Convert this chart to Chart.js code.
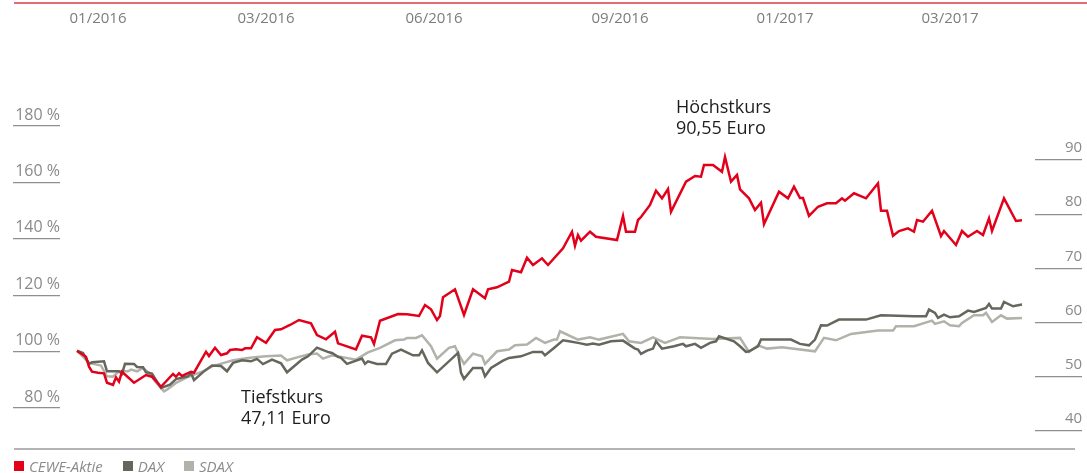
<!DOCTYPE html>
<html>
<head>
<meta charset="utf-8">
<script src="https://cdn.jsdelivr.net/npm/chart.js@4/dist/chart.umd.min.js"></script>
<style>
  body { margin: 0; background: #fff; }
  #wrap { position: relative; width: 1087px; height: 473px; font-family: 'Open Sans', sans-serif; }
  #topline { position: absolute; left: 14px; top: 2px; width: 1073px; height: 2px; background: #e46a74; }
  #baseline { position: absolute; left: 14px; top: 448px; width: 1061px; height: 2px; background: #b4b4b4; }
  #legend { position: absolute; left: 14px; top: 456px; display: flex; align-items: center;
            font-style: italic; font-size: 15px; color: #8c8c8c; }
  #legend .item { display: flex; align-items: center; margin-right: 20px; }
  #legend .box { width: 10px; height: 10px; margin-right: 5px; }
</style>
</head>
<body>
<div id="wrap">
  <div id="topline"></div>
  <canvas id="kursChart" width="1087" height="473"></canvas>
  <div id="baseline"></div>
  <div id="legend"></div>
</div>
<script>
// Monatsbeschriftung oben (Position in Handelstagen)
var monate = ["01/2016", "03/2016", "06/2016", "09/2016", "01/2017", "03/2017"];
var monatTag = [7, 63, 119, 181, 236, 291];

// Achsenbeschriftungen
var prozTicks = [80, 100, 120, 140, 160, 180];
var euroTicks = [40, 50, 60, 70, 80, 90];

// CEWE-Aktie in Euro
var ceweTag = [0,3,4,5,7,9,10,12,13,14,15,19,23,25,28,32,33,34,35,38,39,43,44,46,48,50,51,53,55,56,58,60,63,66,68,71,74,78,80,83,86,87,93,95,98,99,101,107,110,114,116,118,120,121,122,126,129,132,136,137,140,144,145,148,150,152,155,157,162,165,166,167,168,171,173,180,182,183,186,187,188,191,193,195,197,198,203,206,208,209,212,215,216,218,220,221,224,226,228,229,234,237,239,241,242,244,247,250,253,255,256,259,263,267,268,270,272,274,277,279,280,282,285,288,289,293,295,297,300,302,304,305,309,313,315];
var ceweKurs = [54.76,53.71,51.86,50.94,50.76,50.65,48.91,48.49,49.91,49.10,50.94,48.91,50.33,50.02,48.17,50.52,50.02,50.65,50.15,50.94,50.76,54.63,53.84,55.37,54.02,54.34,54.94,55.07,54.94,55.26,55.26,57.29,56.29,58.63,58.76,59.56,60.48,59.87,57.71,56.92,58.32,56.18,55.07,57.58,57.29,56.05,60.35,61.59,61.53,61.22,63.25,62.45,60.48,61.22,64.67,66.14,61.40,66.14,64.48,66.14,66.51,67.55,69.70,69.28,71.98,70.63,71.86,70.63,73.71,76.77,74.19,76.16,75.11,76.77,75.85,75.24,79.67,76.77,76.77,78.93,79.48,81.70,84.34,82.93,84.65,80.46,86.00,87.05,86.92,89.08,89.08,87.84,90.55,86.00,87.23,84.59,82.93,80.77,82.12,78.19,84.15,82.93,85.07,82.99,82.99,79.67,81.38,82.01,82.01,82.93,82.49,83.86,82.93,85.70,80.65,80.65,76.03,76.90,77.40,76.77,78.93,78.62,80.65,75.98,76.90,74.32,76.90,75.85,76.90,76.16,79.24,76.90,82.93,78.75,78.87];

// DAX in Prozent
var daxTag = [0,2,4,5,9,10,14,15,16,19,20,22,23,25,28,31,33,37,38,39,42,45,48,50,52,55,58,60,62,65,68,70,75,77,80,84,85,87,88,90,95,96,97,100,103,105,108,112,114,115,117,120,127,128,129,132,135,136,138,142,144,148,152,155,156,159,162,164,167,170,172,174,178,182,184,186,187,188,190,192,193,195,199,202,203,206,208,211,213,214,219,221,223,224,227,228,238,241,244,246,248,250,254,263,268,279,283,284,286,287,289,291,294,297,299,303,304,305,308,309,312,315];
var daxProz = [100.35,99.54,95.64,96.21,96.56,93.01,93.01,92.13,95.67,95.64,94.57,94.43,92.66,92.20,87.13,88.30,90.25,91.24,92.38,89.89,92.73,95.04,94.86,93.01,95.99,96.91,96.56,97.41,95.57,97.16,95.85,92.66,97.16,98.33,101.42,99.75,99.54,98.12,97.77,95.64,97.52,95.64,96.56,95.64,95.64,99.29,100.71,98.69,98.69,100.46,95.99,92.66,99.54,92.45,90.32,94.22,94.22,91.24,94.22,96.81,97.77,98.33,99.89,99.89,98.69,101.31,104.01,103.65,103.09,102.48,102.84,102.48,103.65,103.90,102.48,101.06,100.71,99.18,100.35,101.06,103.65,101.06,101.88,102.73,101.88,102.73,101.31,103.09,103.65,105.43,103.65,101.88,99.89,100.11,101.88,104.26,104.26,102.73,102.23,104.26,109.33,109.22,111.35,111.35,112.87,112.52,112.52,114.89,113.72,111.95,113.12,112.16,112.52,114.54,114.08,115.50,116.91,115.25,115.25,117.62,116.06,116.67];

// SDAX in Prozent
var sdaxTag = [0,4,8,10,12,14,17,18,20,22,24,26,29,30,33,37,39,42,45,49,52,57,60,63,68,70,74,77,80,82,85,93,97,101,106,109,110,113,115,118,120,124,126,127,129,132,135,136,140,144,146,150,153,156,159,160,161,167,171,174,182,184,188,192,196,201,212,221,224,227,230,235,246,249,253,258,267,272,273,279,285,286,289,291,294,295,299,302,303,305,308,310,315];
var sdaxProz = [100.35,95.99,95.04,91.24,91.13,93.01,93.01,93.62,93.01,94.22,92.45,89.47,85.92,86.52,88.90,91.03,91.84,93.01,94.79,95.99,96.91,97.77,98.12,98.33,98.58,96.91,98.12,98.94,99.29,97.52,98.69,97.16,99.75,101.31,104.01,104.26,104.86,104.86,105.78,101.88,97.52,101.31,101.88,99.54,95.64,99.29,98.33,95.64,100.11,100.71,102.23,102.48,104.86,103.09,104.26,104.26,107.20,104.26,105.07,104.26,106.28,103.65,103.09,105.07,103.09,105.07,104.50,104.86,99.89,102.23,101.06,101.52,100.11,104.86,104.01,106.28,107.45,107.45,108.97,108.97,110.99,109.82,110.74,109.33,108.97,110.18,112.87,112.87,113.72,110.53,112.87,111.70,111.95];

// Beschriftung Höchst-/Tiefstkurs
var hoechstKurs = 90.55;
var tiefstKurs = 47.11;

var farben = { cewe: "#e2001a", dax: "#66665c", sdax: "#b2b2aa" };

function punkte(tage, werte) {
    return tage.map(function (t, i) { return { x: t, y: werte[i] }; });
}

function euro(v) {
    return v.toFixed(2).replace(".", ",") + " Euro";
}

var kursLabels = {
    id: "kursLabels",
    afterDatasetsDraw: function (chart) {
        var ctx = chart.ctx;
        var xs = chart.scales.x, ys = chart.scales.yEuro;
        var iMax = ceweKurs.indexOf(Math.max.apply(null, ceweKurs));
        var iMin = ceweKurs.indexOf(Math.min.apply(null, ceweKurs));
        var hx = xs.getPixelForValue(ceweTag[iMax]), hy = ys.getPixelForValue(ceweKurs[iMax]);
        var tx = xs.getPixelForValue(ceweTag[iMin]), ty = ys.getPixelForValue(ceweKurs[iMin]);
        ctx.save();
        ctx.font = "18px 'Open Sans', sans-serif";
        ctx.fillStyle = "#1e1e1e";
        ctx.textAlign = "left";
        ctx.textBaseline = "middle";
        ctx.fillText("Höchstkurs", hx - 49, hy - 49);
        ctx.fillText(euro(hoechstKurs), hx - 49, hy - 28);
        ctx.fillText("Tiefstkurs", tx + 80, ty + 11);
        ctx.fillText(euro(tiefstKurs), tx + 80, ty + 32);
        ctx.restore();
    }
};

Chart.defaults.font.family = "'Open Sans', sans-serif";

var chart = new Chart(document.getElementById("kursChart"), {
    type: "line",
    data: {
        datasets: [
            { label: "CEWE-Aktie", data: punkte(ceweTag, ceweKurs), yAxisID: "yEuro", borderColor: farben.cewe, backgroundColor: farben.cewe },
            { label: "DAX", data: punkte(daxTag, daxProz), yAxisID: "yProz", borderColor: farben.dax, backgroundColor: farben.dax },
            { label: "SDAX", data: punkte(sdaxTag, sdaxProz), yAxisID: "yProz", borderColor: farben.sdax, backgroundColor: farben.sdax }
        ]
    },
    options: {
        responsive: false,
        animation: false,
        layout: { padding: { left: 13, right: 5, top: 0, bottom: 28 } },
        elements: {
            point: { radius: 0 },
            line: { borderWidth: 2.5, tension: 0 }
        },
        plugins: {
            legend: { display: false },
            tooltip: { enabled: false }
        },
        scales: {
            x: {
                type: "linear",
                position: "top",
                min: -5.667,
                max: 319.333,
                grid: { display: false, drawTicks: false },
                border: { display: false },
                afterBuildTicks: function (s) { s.ticks = monatTag.map(function (v) { return { value: v }; }); },
                afterFit: function (s) { s.height = 40; },
                ticks: {
                    autoSkip: false,
                    maxRotation: 0,
                    padding: 12,
                    color: "#7c7c7c",
                    font: { size: 15 },
                    callback: function (v, i) { return monate[i]; }
                }
            },
            yProz: {
                position: "left",
                min: 66.88,
                max: 210.5,
                afterBuildTicks: function (s) { s.ticks = prozTicks.map(function (v) { return { value: v }; }); },
                afterFit: function (s) { s.width = 47; },
                grid: { drawOnChartArea: false, tickLength: 47, color: "#8f8f8f", lineWidth: 1.3 },
                border: { display: false },
                ticks: {
                    padding: -47,
                    labelOffset: -11,
                    crossAlign: "near",
                    color: "#8a8a8a",
                    font: { size: 16 },
                    callback: function (v) { return v + " %"; }
                }
            },
            yEuro: {
                position: "right",
                min: 37.42,
                max: 112.14,
                afterBuildTicks: function (s) { s.ticks = euroTicks.map(function (v) { return { value: v }; }); },
                afterFit: function (s) { s.width = 47; },
                grid: { drawOnChartArea: false, tickLength: 47, color: "#8f8f8f", lineWidth: 1.3 },
                border: { display: false },
                ticks: {
                    padding: -17,
                    labelOffset: -12,
                    crossAlign: "near",
                    color: "#8a8a8a",
                    font: { size: 15 }
                }
            }
        }
    },
    plugins: [kursLabels]
});

// Legende unten
var legendHtml = "";
chart.data.datasets.forEach(function (ds) {
    legendHtml += '<span class="item"><span class="box" style="background:' + ds.borderColor + '"></span>' + ds.label + '</span>';
});
document.getElementById("legend").innerHTML = legendHtml;
</script>
</body>
</html>
